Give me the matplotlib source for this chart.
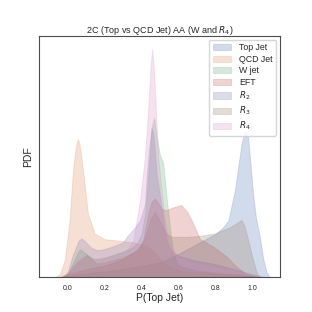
import matplotlib
matplotlib.use("Agg")
import matplotlib.pyplot as plt
import seaborn as sns
import numpy as np

# densities
top_x = [-0.05, 0.0, 0.1, 0.3, 0.5, 0.6, 0.7, 0.75, 0.8, 0.843, 0.870, 0.888, 0.906, 0.924, 0.942,
         0.955, 0.966, 0.978, 0.991, 1.005, 1.020, 1.042, 1.060, 1.078, 1.096]
top_y = [0.0, 0.06, 0.15, 0.31, 0.56, 0.88, 1.25, 1.44, 1.62, 1.88, 2.12, 2.69, 3.25, 4.12, 5.0,
         5.38, 5.49, 5.25, 4.25, 3.12, 2.25, 1.5, 0.69, 0.19, 0.0]

qcd_x = [-0.07, -0.042, -0.016, 0.011, 0.029, 0.042, 0.049, 0.056, 0.063, 0.070, 0.083, 0.110,
         0.146, 0.200, 0.273, 0.356, 0.428, 0.464, 0.500, 0.536, 0.608, 0.717, 0.897, 1.005, 1.06]
qcd_y = [0.0, 0.12, 0.65, 2.15, 4.03, 4.78, 5.06, 5.18, 5.06, 4.75, 4.03, 2.40,
         1.65, 1.43, 1.38, 1.31, 1.19, 1.0, 0.69, 0.44, 0.25, 0.18, 0.10, 0.04, 0.0]

w_x = [-0.03, 0.0, 0.03, 0.06, 0.07, 0.10, 0.14, 0.18, 0.26, 0.30, 0.35, 0.38, 0.40, 0.42, 0.44,
       0.455, 0.469, 0.485, 0.50, 0.518, 0.536, 0.554, 0.572, 0.6, 0.7, 0.85, 1.0, 1.07]
w_y = [0.0, 0.12, 0.56, 1.0, 1.05, 0.88, 0.69, 0.68, 0.88, 0.96, 1.12, 1.31, 1.62, 2.38, 4.12,
       5.62, 5.99, 5.15, 4.6, 4.28, 3.02, 1.9, 0.9, 0.44, 0.25, 0.15, 0.05, 0.0]

eft_x = [-0.05, 0.0, 0.1, 0.2, 0.3, 0.38, 0.41, 0.437, 0.455, 0.473, 0.49, 0.51, 0.536, 0.57,
         0.617, 0.65, 0.68, 0.717, 0.789, 0.861, 0.915, 0.969, 1.03]
eft_y = [0.0, 0.12, 0.31, 0.44, 0.69, 1.06, 1.4, 2.4, 2.84, 2.96, 2.81, 2.56, 2.52, 2.62,
         2.71, 2.44, 2.02, 1.44, 1.15, 0.78, 0.4, 0.12, 0.0]

r2_x = [-0.03, 0.0, 0.03, 0.06, 0.076, 0.10, 0.13, 0.16, 0.2, 0.24, 0.30, 0.32, 0.356, 0.392,
        0.419, 0.428, 0.44, 0.455, 0.465, 0.482, 0.509, 0.536, 0.56, 0.6, 0.7, 0.8, 0.9, 1.0, 1.07]
r2_y = [0.0, 0.19, 0.88, 1.38, 1.46, 1.31, 1.1, 1.02, 1.06, 1.15, 1.31, 1.52, 1.8, 2.12,
        2.75, 3.75, 4.75, 5.59, 5.38, 3.9, 2.65, 1.4, 1.0, 0.81, 0.62, 0.5, 0.31, 0.12, 0.0]

r3_x = [-0.03, 0.0, 0.05, 0.103, 0.13, 0.158, 0.2, 0.3, 0.38, 0.42, 0.45, 0.473, 0.50, 0.53,
        0.56, 0.65, 0.72, 0.80, 0.88, 0.942, 0.96, 0.978, 1.005, 1.023, 1.04]
r3_y = [0.0, 0.12, 0.56, 0.84, 0.69, 0.52, 0.56, 0.75, 1.0, 1.5, 2.19, 2.46, 2.12, 1.69,
        1.52, 1.52, 1.56, 1.65, 1.88, 2.15, 1.9, 1.4, 0.65, 0.21, 0.0]

r4_x = [-0.03, 0.0, 0.05, 0.08, 0.15, 0.25, 0.32, 0.356, 0.392, 0.419, 0.437, 0.449, 0.458,
        0.467, 0.478, 0.491, 0.509, 0.527, 0.554, 0.6, 0.7, 0.85, 1.0, 1.07]
r4_y = [0.0, 0.19, 0.62, 0.75, 0.69, 0.81, 1.0, 1.38, 2.9, 4.52, 6.4, 7.88, 8.56,
        7.88, 6.4, 4.52, 3.28, 2.12, 1.25, 0.75, 0.5, 0.31, 0.1, 0.0]

labels = ["Top Jet", "QCD Jet", "W jet", "EFT", r"$R_2$", r"$R_3$", r"$R_4$"]
curves = [(top_x, top_y), (qcd_x, qcd_y), (w_x, w_y), (eft_x, eft_y),
          (r2_x, r2_y), (r3_x, r3_y), (r4_x, r4_y)]

sns.set_style("white")
plt.rcParams["font.family"] = ["Liberation Sans", "DejaVu Sans"]
colors = sns.color_palette("deep")

fig = plt.figure(figsize=(3.12, 3.12), dpi=100)
ax = fig.add_axes([0.125, 0.111, 0.772, 0.775])

for i, (xs, ys) in enumerate(curves):
    c = colors[i]
    ax.fill_between(xs, ys, 0, facecolor=(*c, 0.25), edgecolor=(*c, 0.2),
                    linewidth=0.7, label=labels[i])

ax.set_xlim(-0.155, 1.15)
ax.set_ylim(0, 9.06)
ax.set_yticks([])
ax.set_xticks([0.0, 0.2, 0.4, 0.6, 0.8, 1.0])
ax.tick_params(axis="x", labelsize=5, pad=2)
ax.set_xlabel("P(Top Jet)", fontsize=7.5, labelpad=1)
ax.set_ylabel("PDF", fontsize=7.5, labelpad=4)
ax.set_title(r"2C (Top vs QCD Jet) AA (W and $R_4$)", fontsize=6.5, pad=2)
for s in ax.spines.values():
    s.set_color("0.3")
    s.set_linewidth(0.8)

ax.legend(loc="upper right", fontsize=6.3, borderaxespad=0.45, handlelength=2.1,
          labelspacing=0.3, handletextpad=0.9, borderpad=0.4)

fig.savefig("out.png", dpi=100)
